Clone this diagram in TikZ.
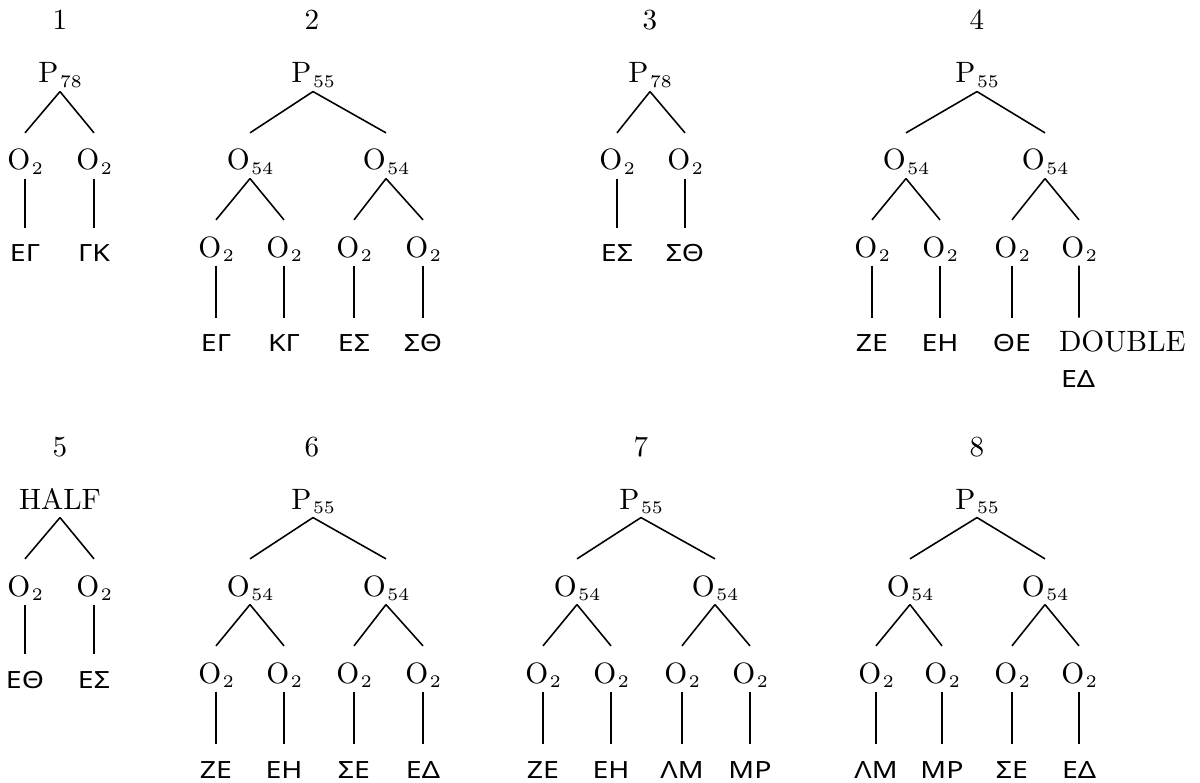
\documentclass[tikz,border=0pt]{standalone}
\usepackage{fontspec}
\newfontfamily\gkfont[FakeStretch=1.2]{Noto Sans}
\newcommand\sbx[1]{\raisebox{-1.5pt}{\fontsize{6.2}{7}\selectfont #1}}
\newcommand\Pn[1]{P\kern0.6pt\sbx{#1}}
\newcommand\On[1]{O\kern0.6pt\sbx{#1}}
\newcommand\eP{\edgeX{3pt}{13pt}}
\newcommand\eO{\edgeX{3pt}{13pt}}
\newcommand\eL{\edgeX{3pt}{12pt}}
\newcommand\edgeX[4]{\draw[ln] ([yshift=-#1]#3.base) -- ([yshift=#2]#4.base);}
\tikzset{
  lbl/.style={inner sep=0pt,outer sep=0pt,anchor=base,font=\fontsize{10.2}{12}\selectfont},
  tn/.style={inner sep=0pt,outer sep=0pt,anchor=base,font=\fontsize{10.3}{12}\selectfont},
  lf/.style={inner sep=0pt,outer sep=0pt,anchor=base,font=\gkfont\fontsize{8.3}{9}\selectfont},
  ln/.style={line width=0.55pt}
}
\begin{document}
\begin{tikzpicture}[x=0.35pt,y=-0.35pt]
\useasboundingbox (0,0) rectangle (1200,783);
% ---------- Tree 1
\node[lbl] (lab1) at (60,30) {1};
\node[tn] (t1r) at (60,83) {\Pn{78}};
\node[tn] (t1a) at (25,170) {\On{2}};
\node[tn] (t1b) at (94,170) {\On{2}};
\node[lf] (t1c) at (25,262) {ΕΓ};
\node[lf] (t1d) at (94,262) {ΓΚ};
\eP{t1r}{t1a}\eP{t1r}{t1b}
\eL{t1a}{t1c}\eL{t1b}{t1d}
% ---------- Tree 2
\node[lbl] (lab2) at (312,30) {2};
\node[tn] (t2r) at (313,83) {\Pn{55}};
\node[tn] (t2a) at (250,170) {\On{54}};
\node[tn] (t2b) at (386,170) {\On{54}};
\node[tn] (t2c) at (216,257) {\On{2}};
\node[tn] (t2d) at (284,257) {\On{2}};
\node[tn] (t2e) at (354,257) {\On{2}};
\node[tn] (t2f) at (423,257) {\On{2}};
\node[lf] (t2g) at (216,352) {ΕΓ};
\node[lf] (t2h) at (284,352) {ΚΓ};
\node[lf] (t2i) at (354,352) {ΕΣ};
\node[lf] (t2j) at (423,352) {ΣΘ};
\eP{t2r}{t2a}\eP{t2r}{t2b}
\eO{t2a}{t2c}\eO{t2a}{t2d}\eO{t2b}{t2e}\eO{t2b}{t2f}
\eL{t2c}{t2g}\eL{t2d}{t2h}\eL{t2e}{t2i}\eL{t2f}{t2j}
% ---------- Tree 3
\node[lbl] (lab3) at (650,30) {3};
\node[tn] (t3r) at (650,83) {\Pn{78}};
\node[tn] (t3a) at (617,170) {\On{2}};
\node[tn] (t3b) at (685,170) {\On{2}};
\node[lf] (t3c) at (617,262) {ΕΣ};
\node[lf] (t3d) at (685,262) {ΣΘ};
\eP{t3r}{t3a}\eP{t3r}{t3b}
\eL{t3a}{t3c}\eL{t3b}{t3d}
% ---------- Tree 4
\node[lbl] (lab4) at (977,30) {4};
\node[tn] (t4r) at (977,83) {\Pn{55}};
\node[tn] (t4a) at (906,170) {\On{54}};
\node[tn] (t4b) at (1045,170) {\On{54}};
\node[tn] (t4c) at (872,257) {\On{2}};
\node[tn] (t4d) at (940,257) {\On{2}};
\node[tn] (t4e) at (1012,257) {\On{2}};
\node[tn] (t4f) at (1079,257) {\On{2}};
\node[lf] (t4g) at (872,352) {ΖΕ};
\node[lf] (t4h) at (940,352) {ΕΗ};
\node[lf] (t4i) at (1012,352) {ΘΕ};
\node[tn,anchor=base west] (t4j) at (1059,352) {DOUBLE};
\node[lf,anchor=base west] (t4k) at (1061,387) {ΕΔ};
\eP{t4r}{t4a}\eP{t4r}{t4b}
\eO{t4a}{t4c}\eO{t4a}{t4d}\eO{t4b}{t4e}\eO{t4b}{t4f}
\eL{t4c}{t4g}\eL{t4d}{t4h}\eL{t4e}{t4i}
\draw[ln] ([yshift=-3pt]t4f.base) -- ([shift={(7pt,12pt)}]t4j.base west);
% ---------- Tree 5
\node[lbl] (lab5) at (60,456) {5};
\node[tn] (t5r) at (60,509) {HALF};
\node[tn] (t5a) at (25,596) {\On{2}};
\node[tn] (t5b) at (94,596) {\On{2}};
\node[lf] (t5c) at (25,688) {ΕΘ};
\node[lf] (t5d) at (94,688) {ΕΣ};
\eP{t5r}{t5a}\eP{t5r}{t5b}
\eL{t5a}{t5c}\eL{t5b}{t5d}
% ---------- Tree 6
\node[lbl] (lab6) at (312,456) {6};
\node[tn] (t6r) at (313,509) {\Pn{55}};
\node[tn] (t6a) at (250,596) {\On{54}};
\node[tn] (t6b) at (386,596) {\On{54}};
\node[tn] (t6c) at (216,683) {\On{2}};
\node[tn] (t6d) at (284,683) {\On{2}};
\node[tn] (t6e) at (354,683) {\On{2}};
\node[tn] (t6f) at (423,683) {\On{2}};
\node[lf] (t6g) at (216,778) {ΖΕ};
\node[lf] (t6h) at (284,778) {ΕΗ};
\node[lf] (t6i) at (354,778) {ΣΕ};
\node[lf] (t6j) at (423,778) {ΕΔ};
\eP{t6r}{t6a}\eP{t6r}{t6b}
\eO{t6a}{t6c}\eO{t6a}{t6d}\eO{t6b}{t6e}\eO{t6b}{t6f}
\eL{t6c}{t6g}\eL{t6d}{t6h}\eL{t6e}{t6i}\eL{t6f}{t6j}
% ---------- Tree 7
\node[lbl] (lab7) at (641,456) {7};
\node[tn] (t7r) at (641,509) {\Pn{55}};
\node[tn] (t7a) at (577,596) {\On{54}};
\node[tn] (t7b) at (715,596) {\On{54}};
\node[tn] (t7c) at (543,683) {\On{2}};
\node[tn] (t7d) at (611,683) {\On{2}};
\node[tn] (t7e) at (682,683) {\On{2}};
\node[tn] (t7f) at (750,683) {\On{2}};
\node[lf] (t7g) at (543,778) {ΖΕ};
\node[lf] (t7h) at (611,778) {ΕΗ};
\node[lf] (t7i) at (682,778) {ΛΜ};
\node[lf] (t7j) at (750,778) {ΜΡ};
\eP{t7r}{t7a}\eP{t7r}{t7b}
\eO{t7a}{t7c}\eO{t7a}{t7d}\eO{t7b}{t7e}\eO{t7b}{t7f}
\eL{t7c}{t7g}\eL{t7d}{t7h}\eL{t7e}{t7i}\eL{t7f}{t7j}
% ---------- Tree 8
\node[lbl] (lab8) at (977,456) {8};
\node[tn] (t8r) at (977,509) {\Pn{55}};
\node[tn] (t8a) at (910,596) {\On{54}};
\node[tn] (t8b) at (1045,596) {\On{54}};
\node[tn] (t8c) at (876,683) {\On{2}};
\node[tn] (t8d) at (942,683) {\On{2}};
\node[tn] (t8e) at (1012,683) {\On{2}};
\node[tn] (t8f) at (1079,683) {\On{2}};
\node[lf] (t8g) at (876,778) {ΛΜ};
\node[lf] (t8h) at (942,778) {ΜΡ};
\node[lf] (t8i) at (1012,778) {ΣΕ};
\node[lf] (t8j) at (1079,778) {ΕΔ};
\eP{t8r}{t8a}\eP{t8r}{t8b}
\eO{t8a}{t8c}\eO{t8a}{t8d}\eO{t8b}{t8e}\eO{t8b}{t8f}
\eL{t8c}{t8g}\eL{t8d}{t8h}\eL{t8e}{t8i}\eL{t8f}{t8j}
\end{tikzpicture}
\end{document}
